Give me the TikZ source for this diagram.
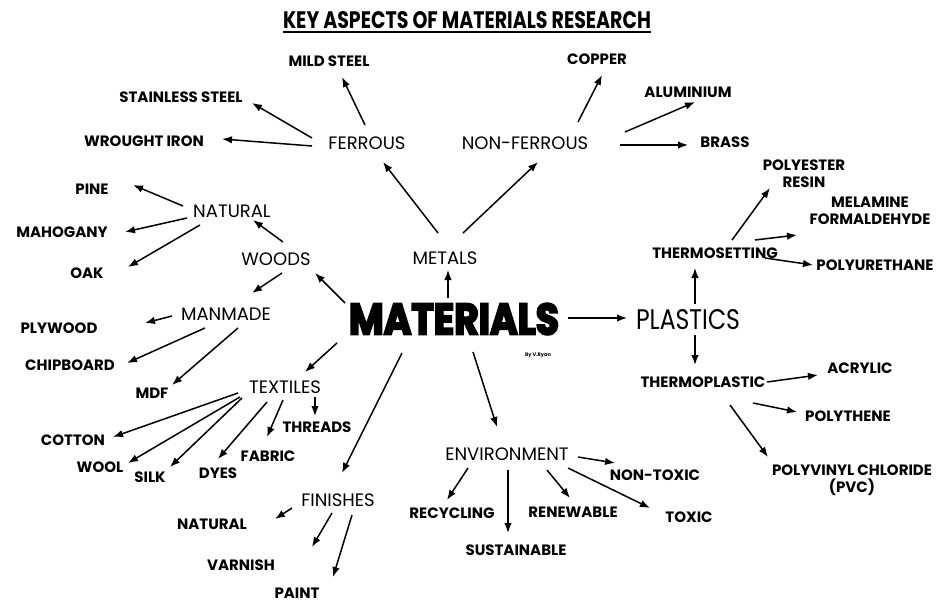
\documentclass[tikz,border=0pt]{standalone}
\usepackage{fontspec}
\setmainfont{Poppins}
\newfontfamily\logofont[FakeBold=5]{Poppins}
\usetikzlibrary{arrows.meta}
\newcommand\myarrow[4]{\draw[arr] ([shift={(#2)}]#1.center) -- ([shift={(#4)}]#3.center);}
\begin{document}
\begin{tikzpicture}[x=1pt,y=-1pt,
  leaf/.style={font=\fontsize{15}{17}\selectfont\bfseries, inner sep=0pt, align=center},
  cat/.style={font=\fontsize{18}{20}\selectfont, inner sep=0pt},
  arr/.style={-{Latex[length=10pt,width=7.5pt]}, line width=1.5pt}]
\fill[white] (0,0) rectangle (948,602);
\useasboundingbox (0,0) rectangle (948,602);
% title
\node[inner sep=0pt] (title) at (467,20) {\resizebox{368pt}{17pt}{\bfseries KEY ASPECTS OF MATERIALS RESEARCH}};
\draw[line width=2pt] ([yshift=-3pt]title.south west) -- ([yshift=-3pt]title.south east);
% centre
\node[inner sep=0pt] (logo) at (454,319) {\resizebox{210pt}{31pt}{\logofont\bfseries MATERIALS}};
\node[inner sep=0pt, font=\fontsize{5}{6}\selectfont\bfseries] (byline) at (538,355) {By V.Ryan};
% metals
\node[cat] (metals) at (445,258) {METALS};
\node[cat] (ferrous) at (367,143) {FERROUS};
\node[cat] (nonferrous) at (525,143) {NON-FERROUS};
\node[leaf] (mild) at (329,61) {MILD STEEL};
\node[leaf] (stainless) at (181,97) {STAINLESS STEEL};
\node[leaf] (wrought) at (144,141) {WROUGHT IRON};
\node[leaf] (copper) at (597,59) {COPPER};
\node[leaf] (aluminium) at (688,92) {ALUMINIUM};
\node[leaf] (brass) at (725,142) {BRASS};
% woods
\node[cat] (woods) at (276,259) {WOODS};
\node[cat] (natural) at (232,211) {NATURAL};
\node[leaf] (pine) at (92,189) {PINE};
\node[leaf] (mahogany) at (62,232) {MAHOGANY};
\node[leaf] (oak) at (87,273) {OAK};
\node[cat] (manmade) at (226,314) {MANMADE};
\node[leaf] (plywood) at (59,328) {PLYWOOD};
\node[leaf] (chipboard) at (70,365) {CHIPBOARD};
\node[leaf] (mdf) at (152,393) {MDF};
% textiles
\node[cat] (textiles) at (285,387) {TEXTILES};
\node[leaf] (threads) at (317,427) {THREADS};
\node[leaf] (fabric) at (268,456) {FABRIC};
\node[leaf] (dyes) at (218,473) {DYES};
\node[leaf] (silk) at (150,477) {SILK};
\node[leaf] (wool) at (100,467) {WOOL};
\node[leaf] (cotton) at (73,440) {COTTON};
% finishes
\node[cat] (finishes) at (338,500) {FINISHES};
\node[leaf] (natural2) at (212,524) {NATURAL};
\node[leaf] (varnish) at (241,565) {VARNISH};
\node[leaf] (paint) at (297,593) {PAINT};
% environment
\node[cat] (environment) at (507,454) {ENVIRONMENT};
\node[leaf] (recycling) at (452,513) {RECYCLING};
\node[leaf] (sustainable) at (516,550) {SUSTAINABLE};
\node[leaf] (renewable) at (573,512) {RENEWABLE};
\node[leaf] (toxic) at (689,517) {TOXIC};
\node[leaf] (nontoxic) at (655,475) {NON-TOXIC};
% plastics
\node[inner sep=0pt] (plastics) at (688,320) {\resizebox{104pt}{20pt}{PLASTICS}};
\node[leaf] (thermosetting) at (715,253) {THERMOSETTING};
\node[leaf] (thermoplastic) at (703,382) {THERMOPLASTIC};
\node[leaf] (polyester) at (804,174) {POLYESTER\\RESIN};
\node[leaf] (melamine) at (870,211) {MELAMINE\\FORMALDEHYDE};
\node[leaf] (polyurethane) at (875,265) {POLYURETHANE};
\node[leaf] (acrylic) at (860,368) {ACRYLIC};
\node[leaf] (polythene) at (848,416) {POLYTHENE};
\node[leaf] (pvc) at (852,480) {POLYVINYL CHLORIDE\\(PVC)};
% connectors
\myarrow{ferrous}{-2,-18}{mild}{13,16}
\myarrow{ferrous}{-55,-5}{stainless}{71,6}
\myarrow{ferrous}{-55,3}{wrought}{78,-2}
\myarrow{nonferrous}{53,-21}{copper}{5,16}
\myarrow{nonferrous}{100,-11}{aluminium}{7,10}
\myarrow{nonferrous}{95,2}{brass}{-37,3}
\myarrow{metals}{-7,-25}{ferrous}{16,19}
\myarrow{metals}{18,-25}{nonferrous}{13,19}
\myarrow{logo}{-6,-21}{metals}{3,12}
\myarrow{logo}{-109,-16}{woods}{39,14}
\myarrow{woods}{7,-17}{natural}{21,9}
\myarrow{natural}{-49,-5}{pine}{41,-4}
\myarrow{natural}{-45,7}{mahogany}{63,0}
\myarrow{natural}{-32,14}{oak}{41,-6}
\myarrow{woods}{6,14}{manmade}{26,-21}
\myarrow{manmade}{-54,2}{plywood}{86,-5}
\myarrow{manmade}{-21,14}{chipboard}{57,-2}
\myarrow{manmade}{12,14}{mdf}{20,-8}
\myarrow{logo}{-117,24}{textiles}{20,-15}
\myarrow{textiles}{30,10}{threads}{-2,-11}
\myarrow{textiles}{-2,13}{fabric}{-1,-19}
\myarrow{textiles}{-18,15}{dyes}{0,-14}
\myarrow{textiles}{-43,11}{silk}{20,-10}
\myarrow{textiles}{-45,10}{wool}{28,-4}
\myarrow{textiles}{-47,6}{cotton}{40,-3}
\myarrow{logo}{-52,34}{finishes}{4,-27}
\myarrow{finishes}{-46,8}{natural2}{63,-5}
\myarrow{finishes}{-6,13}{varnish}{71,-18}
\myarrow{finishes}{14,15}{paint}{36,-16}
\myarrow{logo}{19,33}{environment}{-10,-27}
\myarrow{environment}{-39,14}{recycling}{-5,-13}
\myarrow{environment}{1,16}{sustainable}{-8,-17}
\myarrow{environment}{40,16}{renewable}{-3,-14}
\myarrow{environment}{61,14}{toxic}{-39,-9}
\myarrow{environment}{71,3}{nontoxic}{-40,-12}
\myarrow{logo}{114,-1}{plastics}{-61,-2}
\myarrow{plastics}{7,-16}{thermosetting}{-20,15}
\myarrow{plastics}{7,15}{thermoplastic}{-8,-17}
\myarrow{thermosetting}{17,-13}{polyester}{-34,14}
\myarrow{thermosetting}{40,-13}{melamine}{-73,24}
\myarrow{thermosetting}{50,5}{polyurethane}{-62,0}
\myarrow{thermoplastic}{64,0}{acrylic}{-42,7}
\myarrow{thermoplastic}{50,21}{polythene}{-51,-4}
\myarrow{thermoplastic}{27,23}{pvc}{-84,-23}
\end{tikzpicture}
\end{document}
